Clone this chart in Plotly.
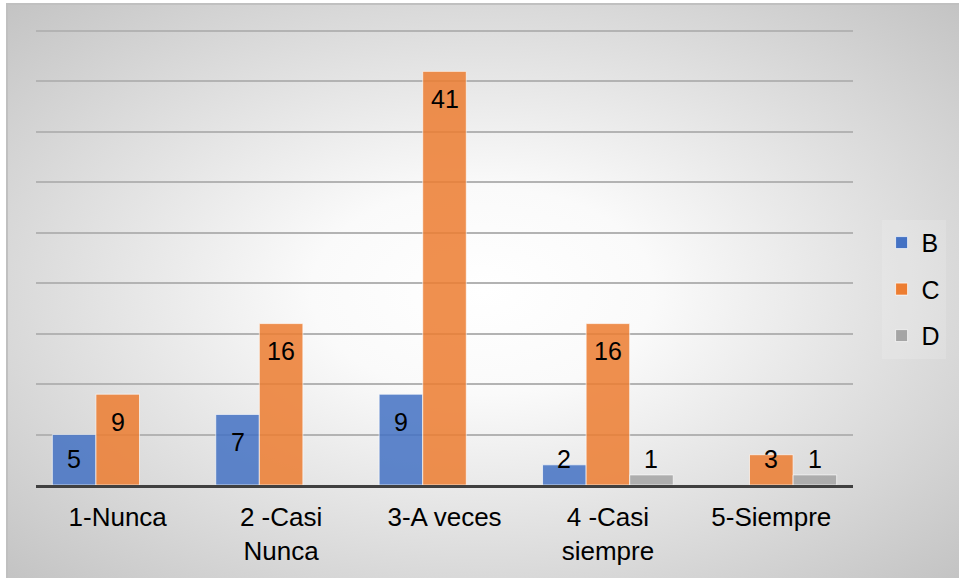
import base64
import plotly.graph_objects as go

# data
categories = ["1-Nunca", "2 -Casi<br>Nunca", "3-A veces", "4 -Casi<br>siempre", "5-Siempre"]
b_vals = [5, 7, 9, 2, 0]
c_vals = [9, 16, 41, 16, 3]
d_vals = [0, 0, 0, 1, 1]
series_names = ["B", "C", "D"]
series_vals = [b_vals, c_vals, d_vals]
colors = ["#4472C4", "#ED7D31", "#A5A5A5"]

### layout setup
W, H = 959, 578
ml, mr, mt, mb = 36, 106, 30, 93
plot_w = W - ml - mr
plot_h = H - mt - mb
y_max = 45.1
bargap = 0.2
bar_w = plot_w / len(categories) * (1 - bargap) / len(series_names)
font = "Liberation Sans, Arial, sans-serif"

fig = go.Figure()
for i, (name, vals) in enumerate(zip(series_names, series_vals)):
    fig.add_trace(go.Bar(
        x=categories, y=[v if v else None for v in vals], name=name,
        legendgroup=name,
        marker=dict(color=colors[i], opacity=0.85,
                    line=dict(color="rgba(255,255,255,0.7)", width=1)),
        hoverinfo="skip",
    ))

### data labels (inside end, clamped near the axis for short bars)
annotations = []
for i, vals in enumerate(series_vals):
    for cat, v in zip(categories, vals):
        if not v:
            continue
        annotations.append(dict(
            x=cat, y=max(v - 2.75, 2.6), xref="x", yref="y",
            xshift=(i - 1) * bar_w, yanchor="middle", showarrow=False,
            text=str(v), font=dict(size=25, color="#000000", family=font),
        ))

### gradient background with a thin border (Excel style chart area)
left_px, top_px = 6, 3
iw, ih = W - left_px, H - top_px
svg = (
    f'<svg xmlns="http://www.w3.org/2000/svg" width="{iw}" height="{ih}">'
    '<defs><radialGradient id="g" cx="0.5" cy="0.5" r="0.72">'
    '<stop offset="0" stop-color="#ffffff"/><stop offset="0.25" stop-color="#fafafa"/>'
    '<stop offset="1" stop-color="#c2c2c2"/>'
    '</radialGradient></defs>'
    '<rect width="100%" height="100%" fill="url(#g)"/>'
    f'<path d="M1,{ih} L1,1 L{iw},1" stroke="#c0c0c0" stroke-width="2" fill="none"/>'
    '</svg>'
)
bg_src = "data:image/svg+xml;base64," + base64.b64encode(svg.encode()).decode()

fig.update_layout(
    width=W, height=H,
    margin=dict(l=ml, r=mr, t=mt, b=mb, pad=0),
    paper_bgcolor="#ffffff",
    plot_bgcolor="rgba(0,0,0,0)",
    barmode="group", bargap=bargap, bargroupgap=0,
    font=dict(family=font, size=25, color="#000000"),
    showlegend=True,
    legend=dict(x=1.035, xanchor="left", y=0.43, yanchor="middle",
                font=dict(size=25, family=font), traceorder="grouped",
                tracegroupgap=11, bgcolor="rgba(255,255,255,0.15)"),
    annotations=annotations,
    images=[dict(source=bg_src, xref="paper", yref="paper",
                 x=(left_px - ml) / plot_w, y=(H - mb - top_px) / plot_h,
                 sizex=iw / plot_w, sizey=ih / plot_h,
                 xanchor="left", yanchor="top", sizing="stretch", layer="below")],
)
fig.update_xaxes(showline=True, linecolor="#404040", linewidth=3,
                 ticks="", tickfont=dict(size=26), ticklabelstandoff=7,
                 showgrid=False, zeroline=False)
fig.update_yaxes(range=[0, y_max], dtick=5, showgrid=True, gridcolor="#b3b3b3",
                 gridwidth=1.5, showticklabels=False, zeroline=False,
                 showline=False, ticks="")

# page margin off so the figure sits at the window's top-left corner
fig.write_html("out.html", config={"displayModeBar": False},
               post_script="document.body.style.margin='0';")
